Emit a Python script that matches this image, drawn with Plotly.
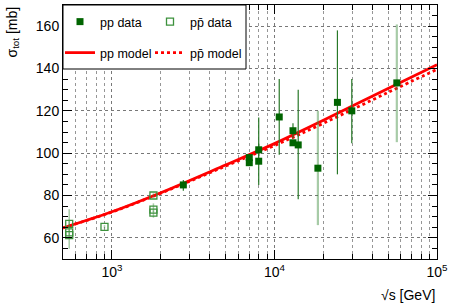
import plotly.graph_objects as go

# ---- data ----
pp_energy = [2750, 7000, 7000, 8000, 8000, 10700, 13000, 13000, 14000, 24400, 29900]
pp_sigma = [85.0, 97.9, 95.5, 101.6, 96.2, 117.1, 110.6, 104.9, 103.9, 124.0, 120.0]
pp_err_up = [2.3, 1.5, 1.3, 2.9, 20.7, 17.9, 3.5, 1.1, 26.1, 34.0, 15.0]
pp_err_dn = [2.7, 1.5, 1.3, 2.9, 11.2, 17.9, 3.5, 1.1, 25.7, 34.0, 15.3]

pp_light_energy = [18500, 56600]
pp_light_sigma = [92.9, 133.2]
pp_light_up = [27.1, 27.6]
pp_light_dn = [26.9, 28.0]

ppbar_energy = [546, 546, 546, 900, 1800, 1800, 1800]
ppbar_sigma = [66.6, 62.6, 61.3, 65.2, 80.0, 73.3, 71.9]
ppbar_err_up = [1.5, 1.5, 12.2, 0.8, 1.0, 3.0, 1.0]
ppbar_err_dn = [1.5, 1.5, 6.5, 0.8, 1.0, 1.0, 2.4]

model_energy = [500, 1000, 2000, 5000, 10000, 20000, 50000, 100000]
pp_model = [64.7, 72.3, 81.3, 94.4, 104.5, 115.5, 130.6, 141.8]
ppbar_model = [64.7, 72.2, 81.1, 93.9, 103.6, 114.1, 128.7, 139.6]

x_major = [1000, 10000, 100000]
x_major_text = ["10<sup>3</sup>", "10<sup>4</sup>", "10<sup>5</sup>"]
x_minor = [600, 700, 800, 900, 2000, 3000, 4000, 5000, 6000, 7000, 8000, 9000,
           20000, 30000, 40000, 50000, 60000, 70000, 80000, 90000]
y_major = [60, 80, 100, 120, 140, 160]

DARK = "rgb(0,100,0)"
BAR_DARK = "rgb(40,120,40)"
BAR_LIGHT = "rgba(60,140,60,0.45)"
OPEN = "rgb(60,145,60)"
FONT = "Liberation Sans"

fig = go.Figure()

fig.add_trace(go.Scatter(
    x=model_energy, y=pp_model, mode="lines", name="pp model",
    line=dict(color="rgb(255,0,0)", width=2.8, shape="spline"), legend="legend3"))
fig.add_trace(go.Scatter(
    x=model_energy, y=ppbar_model, mode="lines", name="pp\u0304 model",
    line=dict(color="rgb(255,0,0)", width=2.8, dash="3px,3px", shape="spline"),
    legend="legend4"))

fig.add_trace(go.Scatter(
    x=ppbar_energy, y=ppbar_sigma, mode="markers", name="pp\u0304 data",
    marker=dict(symbol="square-open", size=7, color=OPEN, line=dict(width=1.3)),
    error_y=dict(type="data", symmetric=False, array=ppbar_err_up,
                 arrayminus=ppbar_err_dn, color=BAR_LIGHT, thickness=1.5, width=0),
    legend="legend2"))

fig.add_trace(go.Scatter(
    x=pp_light_energy, y=pp_light_sigma, mode="markers", showlegend=False,
    marker=dict(symbol="square", size=7, color=DARK),
    error_y=dict(type="data", symmetric=False, array=pp_light_up,
                 arrayminus=pp_light_dn, color=BAR_LIGHT, thickness=2.2, width=0)))

fig.add_trace(go.Scatter(
    x=pp_energy, y=pp_sigma, mode="markers", name="pp data",
    marker=dict(symbol="square", size=7, color=DARK),
    error_y=dict(type="data", symmetric=False, array=pp_err_up,
                 arrayminus=pp_err_dn, color=BAR_DARK, thickness=1.2, width=0),
    legend="legend"))

L, R, T, B = 63, 13, 5, 48
pw, ph = 450 - L - R, 307 - T - B


def px_to_paper_x(px):
    return (px - L) / pw


def px_to_paper_y(py):
    return (307 - B - py) / ph


def leg(xpx, ypx):
    return dict(x=px_to_paper_x(xpx), y=px_to_paper_y(ypx), xanchor="left",
                yanchor="middle", bgcolor="rgba(0,0,0,0)", font=dict(size=12.5),
                itemwidth=30, orientation="h")


fig.update_layout(
    width=450, height=307,
    margin=dict(l=L, r=R, t=T, b=B, autoexpand=False),
    paper_bgcolor="white", plot_bgcolor="white",
    font=dict(family=FONT, size=14, color="black"),
    showlegend=True,
    legend=leg(60, 22),
    legend2=leg(150, 22),
    legend3=leg(60, 53),
    legend4=leg(150, 53),
    xaxis=dict(
        type="log", range=[2.699, 5], showline=True, linecolor="black",
        linewidth=1, mirror="allticks", ticks="inside", ticklen=9,
        tickcolor="black", tickvals=x_major, ticktext=x_major_text,
        showgrid=True, gridcolor="rgb(120,120,120)", griddash="dot", gridwidth=1,
        minor=dict(tickvals=x_minor, ticks="inside", ticklen=5, tickcolor="black",
                   showgrid=True, gridcolor="rgb(150,150,150)", griddash="dot", gridwidth=1),
        zeroline=False, tickfont=dict(size=14),
    ),
    yaxis=dict(
        range=[50, 170], showline=True, linecolor="black", linewidth=1,
        mirror="allticks", ticks="inside", ticklen=9, tickcolor="black",
        tickvals=y_major, showgrid=True,
        gridcolor="rgb(120,120,120)", griddash="dot", gridwidth=1,
        minor=dict(dtick=5, ticks="inside", ticklen=5, tickcolor="black", showgrid=False),
        zeroline=False, tickfont=dict(size=14),
    ),
    shapes=[dict(type="rect", xref="paper", yref="paper",
                 x0=0, x1=px_to_paper_x(246), y0=px_to_paper_y(69), y1=1,
                 fillcolor="white", line=dict(color="black", width=1), layer="above")],
    annotations=[
        dict(text="\u221As [GeV]", xref="paper", yref="paper",
             x=1, y=px_to_paper_y(295), xanchor="right", yanchor="middle",
             showarrow=False, font=dict(size=14)),
        dict(text="\u03c3<sub>tot</sub> [mb]", xref="paper", yref="paper",
             x=px_to_paper_x(12), y=1, xanchor="center", yanchor="top",
             textangle=-90, showarrow=False, font=dict(size=14)),
    ],
)

fig.write_html("out.html", config={"displayModeBar": False},
               post_script="document.body.style.margin='0';")
